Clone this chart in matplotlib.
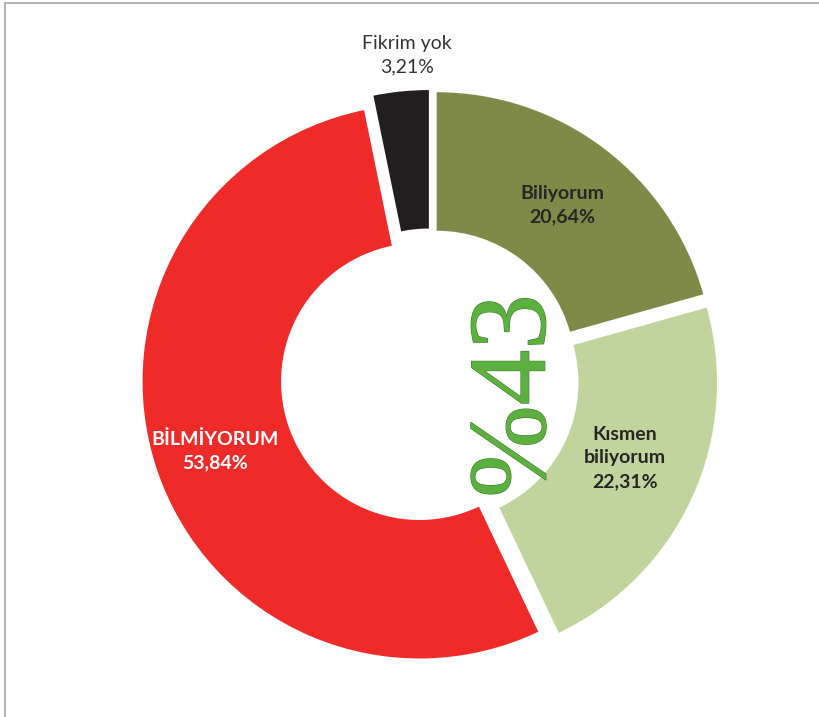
import matplotlib.pyplot as plt
import matplotlib.patheffects as pe
from matplotlib.patches import Rectangle

# -----------------------------
# data
# -----------------------------
labels = ["Biliyorum", "Kısmen\nbiliyorum", "BİLMİYORUM", "Fikrim yok"]
values = [20.64, 22.31, 53.84, 3.21]
colors = ["#7F8A48", "#C2D49E", "#EE2B29", "#231F20"]
center_text = "%43"

# -----------------------------
# figure in pixel units (820 x 717)
# -----------------------------
W, H = 820, 717
fig = plt.figure(figsize=(W / 100, H / 100), dpi=100)
ax = fig.add_axes([0, 0, 1, 1])

R = 277
ax.pie(values, colors=colors, startangle=90, counterclock=False,
       center=(430, 339), radius=R, explode=[11] * len(values),
       wedgeprops=dict(width=R * 0.5, linewidth=0))

ax.set_aspect("auto")
ax.set_xlim(0, W)
ax.set_ylim(0, H)
ax.axis("off")

# frame lines (top + left)
ax.add_patch(Rectangle((5, -20), W + 40, H - 3 + 20, fill=False,
                       edgecolor="#A6A6A6", linewidth=1.2, clip_on=False))

def pct(v):
    return f"{v:.2f}%".replace(".", ",")

font = "Lato"
# data labels
ax.text(562, 512, f"{labels[0]}\n{pct(values[0])}", ha="center", va="center",
        fontsize=14, fontweight="bold", color="#262626", family=font, linespacing=1.45)
ax.text(625, 259, f"{labels[1]}\n{pct(values[1])}", ha="center", va="center",
        fontsize=14, fontweight="bold", color="#262626", family=font, linespacing=1.45)
ax.text(215, 266, f"{labels[2]}\n{pct(values[2])}", ha="center", va="center",
        fontsize=14, fontweight="bold", color="white", family=font, linespacing=1.45)
ax.text(407, 662, f"{labels[3]}\n{pct(values[3])}", ha="center", va="center",
        fontsize=14, color="#333333", family=font, linespacing=1.45)

# big rotated center text
ax.text(518, 321, center_text, ha="center", va="center", rotation=90,
        fontsize=80, family=["Liberation Serif", "DejaVu Serif"], color="#5CB040",
        path_effects=[pe.withStroke(linewidth=0.8, foreground="#3E7A26")])

fig.savefig("out.png", dpi=100)
